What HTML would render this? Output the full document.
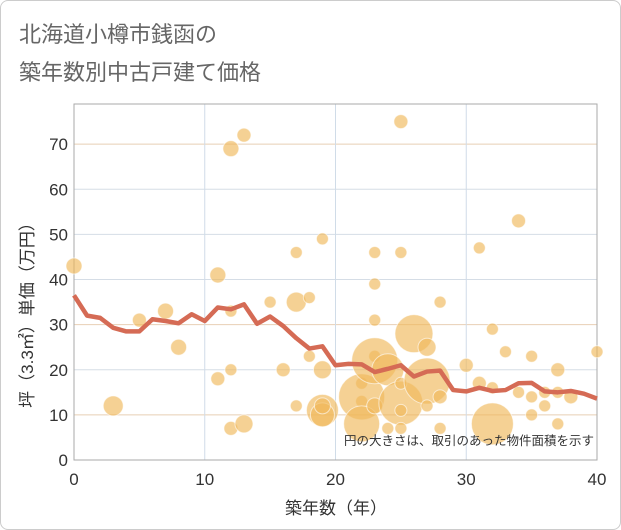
<!DOCTYPE html>
<html><head><meta charset="utf-8">
<style>
body{margin:0;background:#fff;}
#card{position:absolute;left:0;top:0;width:619px;height:528px;border:1px solid #ccc;border-radius:8px;background:#fff;overflow:hidden;}
.t{position:absolute;left:18px;font:22px "Liberation Sans","Noto Sans CJK JP",sans-serif;color:#666;}
svg text{font-family:"Liberation Sans","Noto Sans CJK JP",sans-serif;}
</style></head><body>
<div id="card">
<div class="t" style="top:16px">北海道小樽市銭函の</div>
<div class="t" style="top:54px">築年数別中古戸建て価格</div>
<svg id="chart" width="621" height="530" style="position:absolute;left:0;top:0"></svg>
</div>
<script>
const xTicks=[0,10,20,30,40];
const yTicks=[0,10,20,30,40,50,60,70];
const lineAges=[0,1,2,3,4,5,6,7,8,9,10,11,12,13,14,15,16,17,18,19,20,21,22,23,24,25,26,27,28,29,30,31,32,33,34,35,36,37,38,39,40];
const lineValues=[36.5,32,31.5,29.3,28.5,28.5,31.2,30.8,30.3,32.3,30.8,33.8,33.4,34.5,30.2,31.8,29.7,27,24.7,25.2,21,21.3,21.2,19.5,20.2,21,18.5,19.6,19.8,15.5,15.2,16,15.3,15.5,17,17.1,15.2,15,15.3,14.7,13.6];
const bubbleAges=[0,3,5,7,8,11,11,12,12,12,12,13,13,15,16,17,17,17,18,18,19,19,19,19,19,22,22,22,22,23,23,23,23,23,23,24,24,25,25,25,25,25,25,26,27,27,27,28,28,28,30,31,31,32,32,32,33,34,34,35,35,35,36,36,37,37,37,38,40];
const bubbleValues=[43,12,31,33,25,41,18,69,33,20,7,72,8,35,20,46,35,12,36,23,49,20,11,10,12,17,13,14,8,46,39,31,23,22,12,20,7,75,46,12.6,11,7,17,28,25,17.5,12,35,14,7,21,47,17,29,16,8,24,53,15,23,10,14,12,15,20,8,15,14,24];
const bubbleSizes=[8,10,7,8,8,8,7,8,6,6,7,7,9,6,7,6,10,6,6,6,6,9,16,12,8,6,6,23,18,6,6,6,6,23,8,16,6,7,6,22,6,6,6,19,9,23,6,6,7,6,7,6,7,6,6,21,6,7,6,6,6,6,6,6,7,6,6,7,6];
const X0=73,X1=596,Y0=459,Y1=103;
const xs=v=>X0+(v-0)/40*(X1-X0);
const ys=v=>Y0-v/78.9*(Y0-Y1);
const NS='http://www.w3.org/2000/svg';
const svg=document.getElementById('chart');
function mk(t,a){const e=document.createElementNS(NS,t);for(const k in a)e.setAttribute(k,a[k]);svg.appendChild(e);return e;}
for(const t of yTicks){const l=mk('line',{x1:X0,x2:X1,y1:ys(t),y2:ys(t),stroke:(t==10||t==30||t==70)?'#e8cfb5':'#d5dde6','stroke-width':1});


const tx=mk('text',{x:X0-6,y:ys(t)+6,'text-anchor':'end','font-size':17,fill:'#333'});tx.textContent=t;

}
for(const t of xTicks){const l=mk('line',{x1:xs(t),x2:xs(t),y1:Y1,y2:Y0,stroke:'#d0dce8','stroke-width':1});


const tx=mk('text',{x:xs(t),y:484,'text-anchor':'middle','font-size':17,fill:'#333'});tx.textContent=t;

}
const frame=mk('rect',{x:X0,y:Y1,width:X1-X0,height:Y0-Y1,fill:'none',stroke:'#aaa','stroke-width':1});


for(let i=0;i<bubbleAges.length;i++){const c=mk('circle',{cx:xs(bubbleAges[i]),cy:ys(bubbleValues[i]),r:bubbleSizes[i],fill:'#f0b85a','fill-opacity':0.65,stroke:'#fff','stroke-opacity':0.6});

}
const p=mk('polyline',{points:lineAges.map((a,i)=>xs(a)+','+ys(lineValues[i])).join(' '),fill:'none',stroke:'#d56b55','stroke-width':4.5,'stroke-linejoin':'round'});


const note=mk('text',{x:593,y:444,'text-anchor':'end','font-size':12.5,fill:'#333'});note.textContent='円の大きさは、取引のあった物件面積を示す';


const xt=mk('text',{x:335,y:513,'text-anchor':'middle','font-size':17,fill:'#333'});xt.textContent='築年数（年）';


const yt=mk('text',{x:0,y:0,'text-anchor':'middle','font-size':17,fill:'#333',transform:'translate(32,310) rotate(-90)'});yt.textContent='坪（3.3㎡）単価（万円）';


</script>
</body></html>
